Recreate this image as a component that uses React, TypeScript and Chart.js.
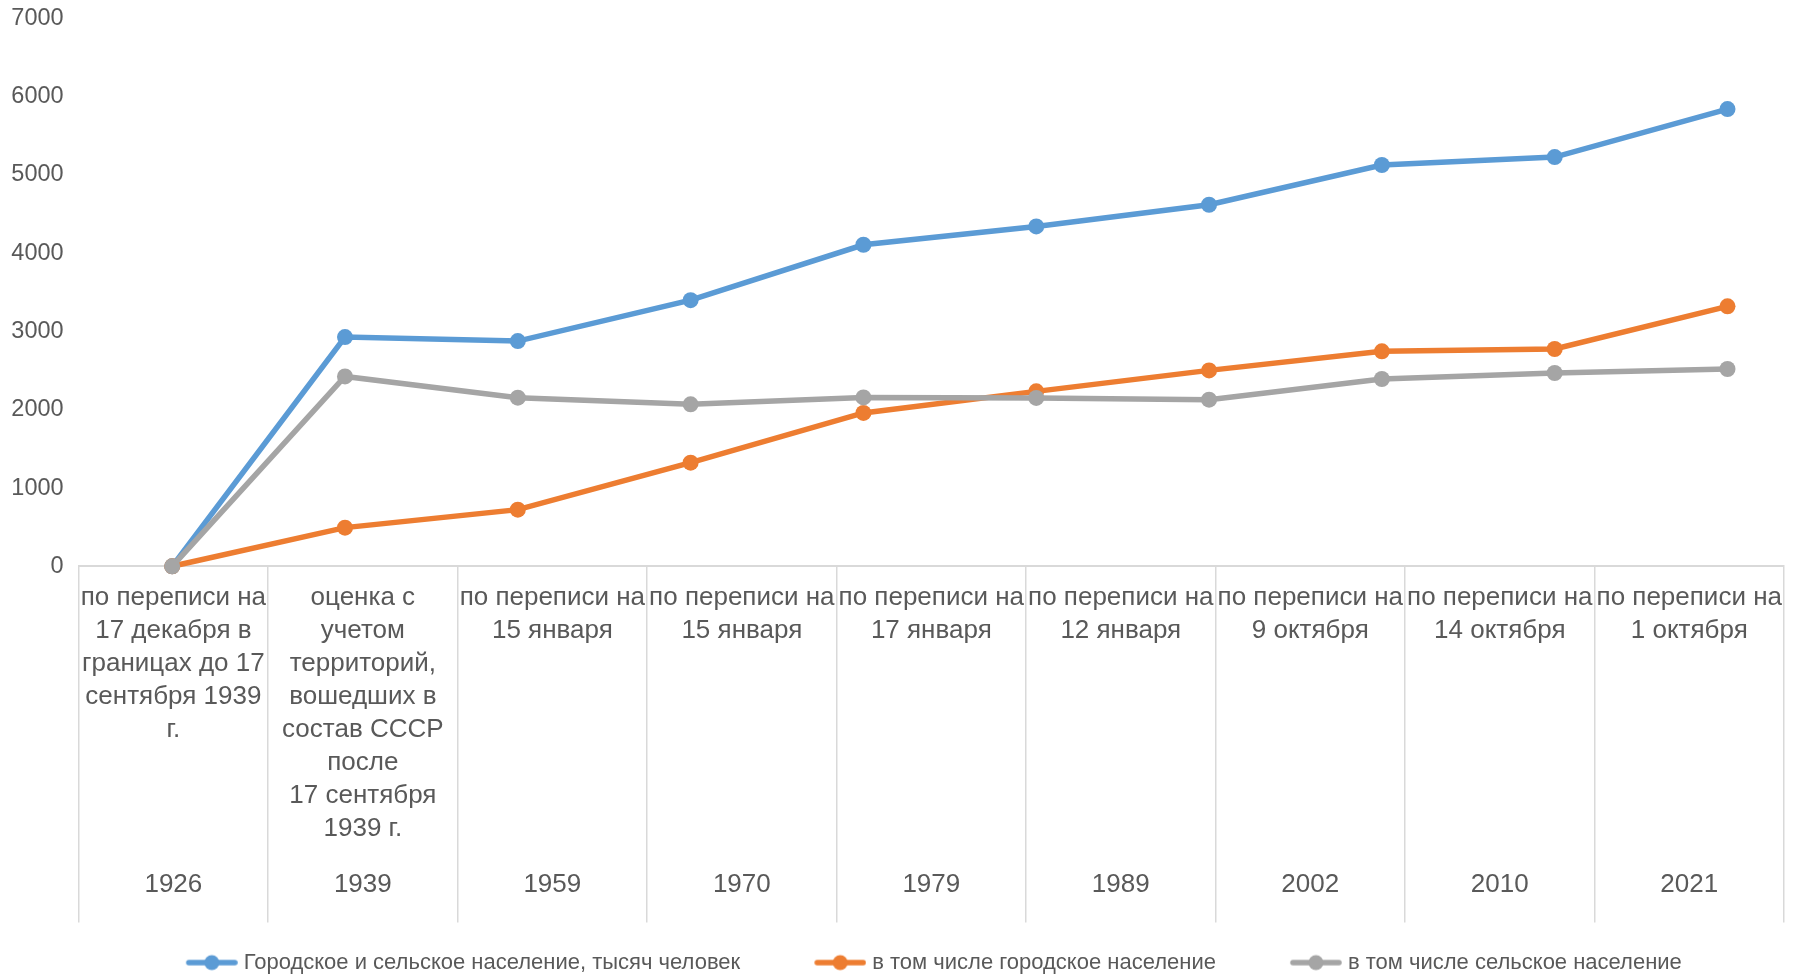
import React, { useEffect, useRef } from "react";
import { Chart, registerables } from "chart.js";

Chart.register(...registerables);

const categoryDescriptions: string[][] = [
  ["по переписи на", "17 декабря в", "границах до 17", "сентября 1939", "г."],
  ["оценка с", "учетом", "территорий,", "вошедших в", "состав СССР", "после", "17 сентября", "1939 г."],
  ["по переписи на", "15 января"],
  ["по переписи на", "15 января"],
  ["по переписи на", "17 января"],
  ["по переписи на", "12 января"],
  ["по переписи на", "9 октября"],
  ["по переписи на", "14 октября"],
  ["по переписи на", "1 октября"],
];
const years = ["1926", "1939", "1959", "1970", "1979", "1989", "2002", "2010", "2021"];

const pointIndex = [0, 1, 2, 3, 4, 5, 6, 7, 8, 9];
const totalPopulation = [0, 2928, 2877, 3400, 4108, 4342, 4619, 5127, 5228, 5841];
const urbanPopulation = [0, 494, 724, 1324, 1959, 2235, 2503, 2746, 2776, 3321];
const ruralPopulation = [0, 2426, 2154, 2069, 2158, 2151, 2129, 2393, 2470, 2521];

const seriesNames = [
  "Городское и сельское население, тысяч человек",
  "в том числе городское население",
  "в том числе сельское население",
];
const seriesColors = ["#5B9BD5", "#ED7D31", "#A5A5A5"];
const yTicks = [0, 1000, 2000, 3000, 4000, 5000, 6000, 7000];

const FONT = "'Liberation Sans', Arial, sans-serif";
const TEXT = "#595959";
const GRID = "#D9D9D9";

const LEGEND_PAD = 52;
const MARKER_LEFT_GAP = 27;

function makeMarker(color: string): HTMLCanvasElement {
  const c = document.createElement("canvas");
  c.width = 52 + MARKER_LEFT_GAP;
  c.height = 18;
  const g = c.getContext("2d")!;
  const x0 = MARKER_LEFT_GAP;
  g.strokeStyle = color;
  g.lineWidth = 5.5;
  g.lineCap = "round";
  g.beginPath();
  g.moveTo(x0 + 3, 9);
  g.lineTo(x0 + 49, 9);
  g.stroke();
  g.fillStyle = color;
  g.beginPath();
  g.arc(x0 + 26, 9, 7.5, 0, Math.PI * 2);
  g.fill();
  return c;
}

const legendShift = {
  id: "legendShift",
  afterLayout(chart: any) {
    const l = chart.legend;
    if (l) {
      l.left -= 8.5;
      l.right -= 8.5;
    }
  },
};

export default function App() {
  const canvasRef = useRef<HTMLCanvasElement | null>(null);

  useEffect(() => {
    document.body.style.margin = "0";
    const canvas = canvasRef.current;
    if (!canvas) return;
    const series = [totalPopulation, urbanPopulation, ruralPopulation];
    const markers = seriesColors.map(makeMarker);

    const chart = new Chart(canvas, {
      type: "line",
      data: {
        datasets: series.map((vals, i) => ({
          label: seriesNames[i],
          data: vals.map((v, j) => ({ x: pointIndex[j], y: v })),
          borderColor: seriesColors[i],
          backgroundColor: seriesColors[i],
          pointBackgroundColor: seriesColors[i],
          pointBorderWidth: 0,
          pointRadius: 8,
          pointHoverRadius: 8,
          borderWidth: 5.5,
          tension: 0,
          clip: false as any,
          order: 2 - i,
        })),
      },
      plugins: [legendShift],
      options: {
        animation: false,
        responsive: true,
        maintainAspectRatio: false,
        layout: { padding: { top: 18.4, left: 0, right: 16, bottom: -9.6 } },
        plugins: {
          tooltip: { enabled: false },
          legend: {
            position: "bottom",
            fullSize: false,
            labels: {
              usePointStyle: true,
              pointStyleWidth: 52 + MARKER_LEFT_GAP - 10,
              padding: LEGEND_PAD,
              color: TEXT,
              font: { family: FONT, size: 22 },
              generateLabels: () =>
                seriesNames.map((name, i) => ({
                  text: name,
                  pointStyle: markers[i] as any,
                  fillStyle: seriesColors[i],
                  strokeStyle: seriesColors[i],
                  lineWidth: 0,
                  hidden: false,
                  datasetIndex: i,
                  fontColor: TEXT,
                })),
            },
          },
        },
        scales: {
          x: {
            type: "linear",
            display: false,
            min: -0.5415,
            max: 9.327,
          },
          x2: {
            type: "category",
            labels: categoryDescriptions as any,
            position: "bottom",
            offset: true,
            weight: 1,
            grid: {
              offset: true,
              drawOnChartArea: false,
              drawTicks: true,
              tickLength: 356.3,
              color: GRID,
              lineWidth: 1.5,
            },
            border: { display: true, color: GRID, width: 2 },
            ticks: {
              autoSkip: false,
              maxRotation: 0,
              minRotation: 0,
              padding: -341.2,
              color: TEXT,
              font: { family: FONT, size: 26, lineHeight: 33 / 26 },
            },
            afterFit: (s: any) => {
              s.height = 296.3;
            },
          } as any,
          x3: {
            type: "category",
            labels: years,
            position: "bottom",
            offset: true,
            weight: 2,
            grid: { display: false, drawTicks: false },
            border: { display: false },
            ticks: {
              autoSkip: false,
              maxRotation: 0,
              minRotation: 0,
              padding: 5.5,
              color: TEXT,
              font: { family: FONT, size: 26, lineHeight: 33 / 26 },
            },
            afterFit: (s: any) => {
              s.height = 37;
            },
          } as any,
          y: {
            type: "linear",
            min: yTicks[0],
            max: yTicks[yTicks.length - 1],
            afterBuildTicks: (s: any) => {
              s.ticks = yTicks.map((v) => ({ value: v }));
            },
            grid: { display: false, drawTicks: false },
            border: { display: false },
            ticks: {
              padding: 15,
              color: TEXT,
              font: { family: FONT, size: 23.5, lineHeight: 1 },
              callback: (v: any) => String(v),
            },
            afterFit: (s: any) => {
              s.width = 78.6;
              s.paddingTop = 0;
              s.paddingBottom = 0;
            },
          },
        },
      },
    });
    return () => chart.destroy();
  }, []);

  return (
    <div style={{ width: 1800, height: 974, position: "relative", background: "#fff" }}>
      <canvas ref={canvasRef} />
    </div>
  );
}
